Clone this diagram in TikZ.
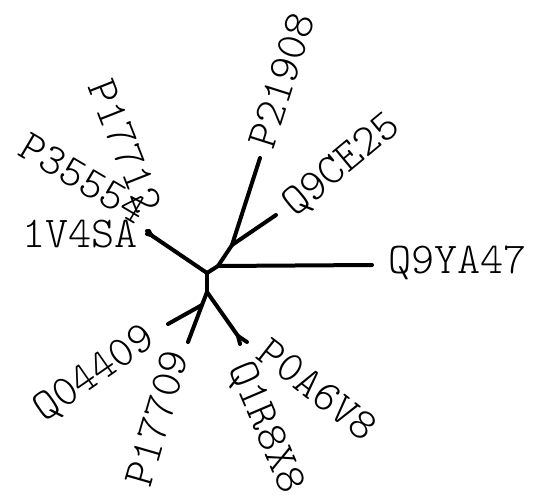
\documentclass[tikz,border=0pt]{standalone}
\usepackage{fontspec}
\setmonofont{Latin Modern Mono Light}
\begin{document}
\begin{tikzpicture}[x=1pt,y=-1pt,
  branch/.style={line width=4pt,line cap=round,line join=round},
  lbl/.style={font=\fontsize{44}{44}\selectfont\ttfamily,inner sep=0pt}]
\useasboundingbox (0,0) rectangle (533,500);
% internal nodes
\coordinate (A) at (207,273);
\coordinate (B) at (207,292);
\coordinate (E) at (218,266);
\coordinate (D) at (232,245);
\coordinate (F) at (202,305);
\coordinate (G) at (238,336);
\coordinate (L) at (151,235);
% leaves
\coordinate (lP21908) at (260,158);
\coordinate (lQ9CE25) at (276,215);
\coordinate (lQ9YA47) at (372,265);
\coordinate (l1V4SA) at (147,234);
\coordinate (lP35554) at (147,231);
\coordinate (lP17712) at (149,231);
\coordinate (lQ04409) at (168,324);
\coordinate (lP17709) at (188,342);
\coordinate (lP0A6V8) at (247,342);
\coordinate (lQ1R8X8) at (240,344);
% branches
\draw[branch] (A) -- (B);
\draw[branch] (A) -- (E) -- (D);
\draw[branch] (D) -- (lP21908);
\draw[branch] (D) -- (lQ9CE25);
\draw[branch] (E) -- (lQ9YA47);
\draw[branch] (A) -- (L);
\draw[branch] (L) -- (l1V4SA);
\draw[branch] (L) -- (lP35554);
\draw[branch] (L) -- (lP17712);
\draw[branch] (B) -- (F) -- (lP17709);
\draw[branch] (F) -- (lQ04409);
\draw[branch] (B) -- (G);
\draw[branch] (G) -- (lP0A6V8);
\draw[branch] (G) -- (lQ1R8X8);
% labels
\node[lbl,anchor=west] (tQ9YA47) at (388,263) {Q9YA47};
\node[lbl,anchor=east] (t1V4SA) at (138,234) {1V4SA};
\node[lbl,anchor=east,rotate=-30.6] (tP35554) at (143,214) {P35554};
\node[lbl,anchor=east,rotate=-68.5] (tP17712) at (151,211) {P17712};
\node[lbl,anchor=west,rotate=72.4] (tP21908) at (261,147) {P21908};
\node[lbl,anchor=west,rotate=39.7] (tQ9CE25) at (288.5,210) {Q9CE25};
\node[lbl,anchor=west,rotate=-38] (tP0A6V8) at (263,347) {P0A6V8};
\node[lbl,anchor=west,rotate=-66.9] (tQ1R8X8) at (238,364) {Q1R8X8};
\node[lbl,anchor=east,rotate=34.8] (tQ04409) at (152,335) {Q04409};
\node[lbl,anchor=east,rotate=73.9] (tP17709) at (176.4,351.5) {P17709};
\end{tikzpicture}
\end{document}
